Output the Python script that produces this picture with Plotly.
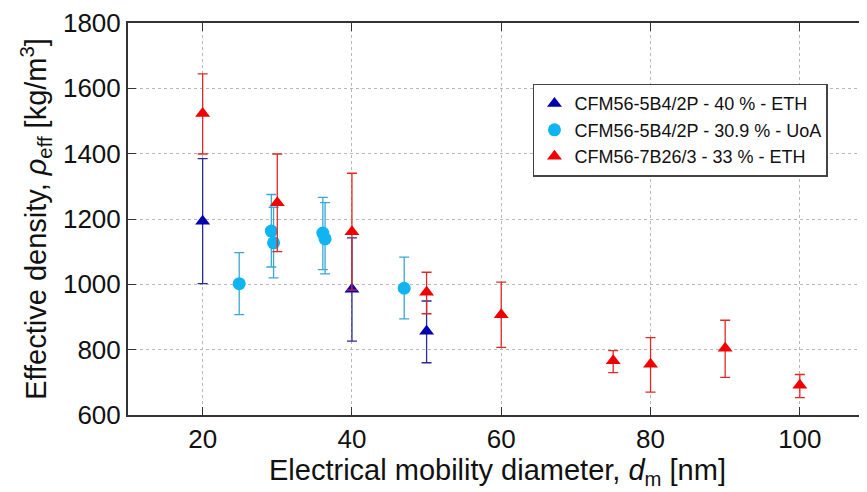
import plotly.graph_objects as go

# CFM56-5B4/2P - 40 % - ETH
eth5b_d = [20, 40, 50]
eth5b_rho = [1193, 985, 856]
eth5b_up = [192, 157, 93]
eth5b_dn = [191, 159, 96]

# CFM56-5B4/2P - 30.9 % - UoA
uoa_d = [24.9, 29.2, 29.5, 36.1, 36.4, 47.0]
uoa_rho = [1002, 1163, 1127, 1157, 1139, 988]
uoa_up = [95, 112, 109, 109, 111, 95]
uoa_dn = [95, 110, 107, 112, 107, 94]

# CFM56-7B26/3 - 33 % - ETH
eth7b_d = [20, 30, 40, 50, 60, 75, 80, 90, 100]
eth7b_rho = [1523, 1250, 1161, 976, 907, 766, 755, 804, 691]
eth7b_up = [121, 149, 179, 61, 100, 31, 82, 86, 33]
eth7b_dn = [124, 150, 179, 66, 100, 36, 85, 89, 38]

font = "Arial, Liberation Sans, sans-serif"

fig = go.Figure()

fig.add_trace(go.Scatter(
    x=eth5b_d, y=eth5b_rho, mode='markers', name='CFM56-5B4/2P - 40 % - ETH',
    marker=dict(symbol='triangle-up', size=13, color='#0000B0'),
    error_y=dict(type='data', array=eth5b_up, arrayminus=eth5b_dn,
                 color='#2A2A90', thickness=1.3, width=5)))

fig.add_trace(go.Scatter(
    x=uoa_d, y=uoa_rho, mode='markers', name='CFM56-5B4/2P - 30.9 % - UoA',
    marker=dict(symbol='circle', size=13, color='#10B4F0'),
    error_y=dict(type='data', array=uoa_up, arrayminus=uoa_dn,
                 color='#3AA8D4', thickness=1.3, width=5)))

fig.add_trace(go.Scatter(
    x=eth7b_d, y=eth7b_rho, mode='markers', name='CFM56-7B26/3 - 33 % - ETH',
    marker=dict(symbol='triangle-up', size=13, color='#F00000'),
    error_y=dict(type='data', array=eth7b_up, arrayminus=eth7b_dn,
                 color='#E02828', thickness=1.3, width=5)))

axis_common = dict(
    showgrid=True, gridcolor='#b8b8b8', griddash='dot', gridwidth=1,
    zeroline=False, showline=True, linecolor='#333333', linewidth=2,
    ticks='inside', ticklen=8, tickcolor='#333333', tickwidth=1,
    tickfont=dict(size=26, color='#111111', family=font),
    ticklabeloverflow='allow',
)

# page body adds an 8px offset, so the figure is a bit smaller than the window
fig.update_layout(
    width=859, height=484,
    paper_bgcolor='white', plot_bgcolor='white',
    margin=dict(l=120, r=0, t=13, b=77),
    font=dict(family=font, color='#111111'),
    xaxis=dict(range=[10, 109], tickvals=[20, 40, 60, 80, 100], mirror='ticks',
               title=dict(text='Electrical mobility diameter, <i>d</i><sub>m</sub> [nm]',
                          font=dict(size=29, family=font), standoff=6),
               **axis_common),
    yaxis=dict(range=[600, 1800], tickvals=[600, 800, 1000, 1200, 1400, 1600, 1800],
               title=dict(text='Effective density, <i>ρ</i><sub>eff</sub> [kg/m<sup>3</sup>]',
                          font=dict(size=29, family=font), standoff=8),
               **axis_common),
    legend=dict(x=0.548, y=0.845, xanchor='left', yanchor='top',
                bgcolor='white', bordercolor='#444444', borderwidth=1.5,
                font=dict(size=18, family=font, color='#111111'),
                itemwidth=30, tracegroupgap=0),
    showlegend=True,
)

fig.write_html("out.html")
